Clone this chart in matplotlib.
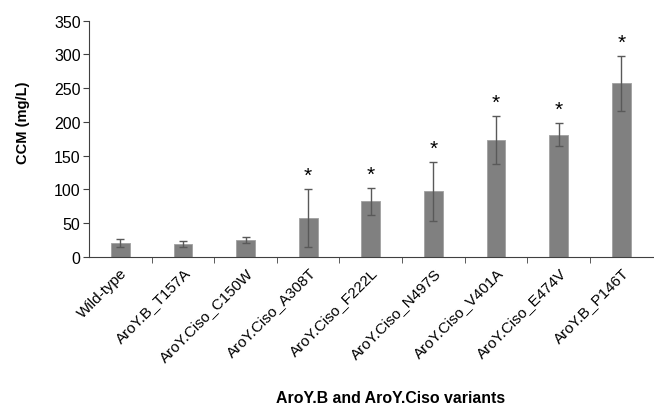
import matplotlib
matplotlib.use("Agg")
import matplotlib.pyplot as plt
import numpy as np

plt.rcParams["font.family"] = ["Liberation Sans", "DejaVu Sans"]

variants = ["Wild-type", "AroY.B_T157A", "AroY.Ciso_C150W", "AroY.Ciso_A308T",
            "AroY.Ciso_F222L", "AroY.Ciso_N497S", "AroY.Ciso_V401A",
            "AroY.Ciso_E474V", "AroY.B_P146T"]
ccm = [20, 19, 25, 58, 82, 97, 173, 181, 257]
ccm_err = [6, 4, 4, 43, 20, 44, 35, 17, 41]
significant = [False, False, False, True, True, True, True, True, True]

BAR, ERR, AXIS = "#808080", "#595959", "#404040"

fig = plt.figure(figsize=(6.54, 4.10), dpi=100)
ax = fig.add_axes([0.136, 0.3715, 0.862, 0.5755])

x = np.arange(len(variants))
ax.bar(x, ccm, width=0.3, color=BAR, edgecolor="#a0a0a0", linewidth=0.6,
       yerr=ccm_err, error_kw=dict(ecolor=ERR, elinewidth=1, capsize=3.2, capthick=1))

for xi, v, e, s in zip(x, ccm, ccm_err, significant):
    if s:
        ax.annotate("*", (xi, v + e), xytext=(0, 3), textcoords="offset points",
                    ha="center", va="bottom", fontsize=15)

ax.set_xlim(-0.5, len(variants) - 0.5)
ax.set_ylim(0, 350)
ax.set_yticks(range(0, 351, 50))
ax.tick_params(axis="y", labelsize=11.5, length=4, color=AXIS, pad=2)

ax.set_xticks(x)
ax.set_xticklabels(variants, rotation=45, ha="right", rotation_mode="anchor", fontsize=11)
ax.tick_params(axis="x", length=0, pad=6)
ax.set_xticks(np.arange(0.5, len(variants) - 0.5), minor=True)
ax.tick_params(axis="x", which="minor", length=4, color=AXIS)

for side in ("top", "right"):
    ax.spines[side].set_visible(False)
for side in ("left", "bottom"):
    ax.spines[side].set_color(AXIS)

fig.text(0.035, 0.70, "CCM (mg/L)", rotation=90, ha="center", va="center",
         fontsize=10.5, fontweight="bold")
fig.text(0.597, 0.028, "AroY.B and AroY.Ciso variants", ha="center", va="center",
         fontsize=11.4, fontweight="bold")

fig.savefig("out.png", dpi=100)
